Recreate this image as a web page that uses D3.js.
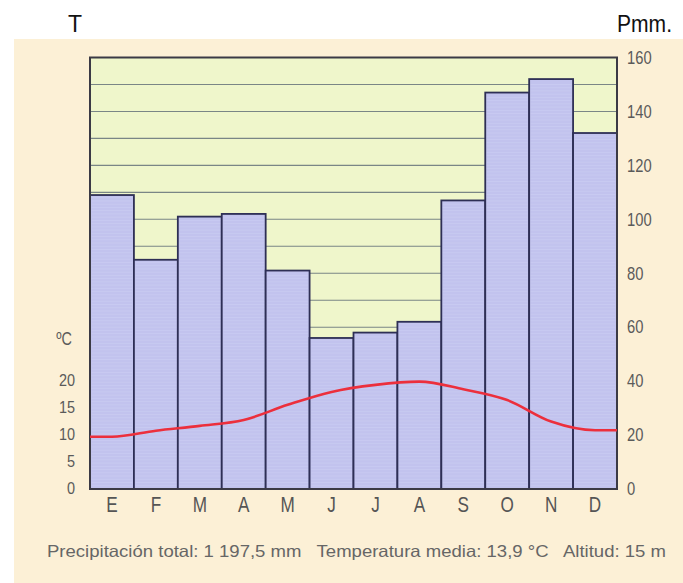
<!DOCTYPE html>
<html>
<head>
<meta charset="utf-8">
<script src="https://cdn.jsdelivr.net/npm/d3@7"></script>
<style>
  html, body { margin: 0; padding: 0; background: #ffffff; }
  svg { display: block; }
  text { white-space: pre; }
</style>
</head>
<body>
<div id="chart"></div>
<script>
const months = ["E","F","M","A","M","J","J","A","S","O","N","D"];
const precip = [109, 85, 101, 102, 81, 56, 58, 62, 107, 147, 152, 132];
const temp = [9.7, 10.8, 11.7, 12.8, 15.6, 18.0, 19.3, 19.9, 18.5, 16.5, 12.5, 10.9];
const precipTicks = [0, 20, 40, 60, 80, 100, 120, 140, 160];
const precipGrid = [10, 20, 30, 40, 50, 60, 70, 80, 90, 100, 110, 120, 130, 140, 150];
const tempTicks = [0, 5, 10, 15, 20];
const footer = "Precipitación total: 1 197,5 mm   Temperatura media: 13,9 °C   Altitud: 15 m";

const W = 683, H = 583;
const L = 90, R = 617, T = 57.5, B = 489;

const svg = d3.select("#chart").append("svg").attr("width", W).attr("height", H);

// backgrounds
svg.append("rect").attr("x", 0).attr("y", 0).attr("width", W).attr("height", H).attr("fill", "#ffffff");
svg.append("rect").attr("x", 14).attr("y", 39).attr("width", W - 14).attr("height", H - 39).attr("fill", "#fcf0d6");

const x = d3.scaleBand().domain(d3.range(12)).range([L, R]).padding(0);
const yP = d3.scaleLinear().domain([0, 160]).range([B, T]);
const yT = d3.scaleLinear().domain([0, 80]).range([B, T]); // T scale = P/2

// plot background
svg.append("rect").attr("x", L).attr("y", T).attr("width", R - L).attr("height", B - T).attr("fill", "#eff6cb");

// gridlines
svg.append("g").selectAll("line").data(precipGrid).join("line")
  .attr("x1", L).attr("x2", R)
  .attr("y1", d => yP(d)).attr("y2", d => yP(d))
  .attr("stroke", "#66737a").attr("stroke-width", 1.1).attr("opacity", 0.85);

// bars
svg.append("g").selectAll("rect").data(precip).join("rect")
  .attr("x", (d, i) => x(i))
  .attr("y", d => yP(d))
  .attr("width", x.bandwidth())
  .attr("height", d => B - yP(d))
  .attr("fill", "#c2c3ee")
  .attr("stroke", "#2e2f55").attr("stroke-width", 1.8);

// faint print texture inside bars
const stripes = d3.range(0, 160, 1.2);
svg.append("g").selectAll("g").data(precip).join("g").each(function(d, i) {
  d3.select(this).selectAll("line").data(stripes.filter(s => s < d - 0.8)).join("line")
    .attr("x1", x(i) + 1.5).attr("x2", x(i) + x.bandwidth() - 1.5)
    .attr("y1", s => yP(s)).attr("y2", s => yP(s))
    .attr("stroke", "#d4d6f6").attr("stroke-width", 0.6).attr("opacity", 0.6);
});

// plot border
svg.append("rect").attr("x", L).attr("y", T).attr("width", R - L).attr("height", B - T)
  .attr("fill", "none").attr("stroke", "#3b3a45").attr("stroke-width", 2);

// temperature line (extended to plot edges)
const pts = [[L, temp[0]]].concat(temp.map((t, i) => [x(i) + x.bandwidth() / 2, t])).concat([[R, temp[temp.length - 1]]]);
svg.append("path").datum(pts)
  .attr("d", d3.line().x(d => d[0]).y(d => yT(d[1])).curve(d3.curveMonotoneX))
  .attr("fill", "none").attr("stroke", "#ec2f3c").attr("stroke-width", 2.6).attr("stroke-linejoin", "round");

const sans = "'Liberation Sans', Arial, sans-serif";

// condensed text helper
function ctext(sel, px, py, sx, anchor) {
  return sel.attr("transform", (d, i) => `translate(${px(d, i)},${py(d, i)}) scale(${sx},1)`)
    .attr("text-anchor", anchor).attr("font-family", sans);
}

// right axis labels
ctext(svg.append("g").selectAll("text").data(precipTicks).join("text"),
  () => 627, d => yP(d), 0.82, "start")
  .attr("dy", "0.35em").attr("font-size", 18).attr("fill", "#5a5a5a")
  .text(d => d);

// left axis labels
ctext(svg.append("g").selectAll("text").data(tempTicks).join("text"),
  () => 75, d => yT(d) - 1, 0.85, "end")
  .attr("dy", "0.35em").attr("font-size", 17).attr("fill", "#5a5a5a")
  .text(d => d);

ctext(svg.append("g").selectAll("text").data(["ºC"]).join("text"),
  () => 72, () => 339, 0.8, "end")
  .attr("dy", "0.35em").attr("font-size", 18).attr("fill", "#5a5a5a")
  .text(d => d);

// month labels
ctext(svg.append("g").selectAll("text").data(months).join("text"),
  (d, i) => x(i) + x.bandwidth() / 2, () => 504, 0.78, "middle")
  .attr("dy", "0.35em").attr("font-size", 22).attr("fill", "#555555")
  .text(d => d);

// footer
svg.append("text").attr("x", 47).attr("y", 551).attr("dy", "0.35em")
  .attr("font-family", sans).attr("font-size", 16.5).attr("fill", "#666666")
  .attr("textLength", 619).attr("lengthAdjust", "spacingAndGlyphs")
  .text(footer);

// top labels
svg.append("text").attr("x", 75).attr("y", 32).attr("text-anchor", "middle")
  .attr("font-family", sans).attr("font-size", 23).attr("fill", "#111")
  .text("T");
svg.append("text").attr("x", 617).attr("y", 32)
  .attr("font-family", sans).attr("font-size", 23).attr("fill", "#111")
  .attr("textLength", 55).attr("lengthAdjust", "spacingAndGlyphs")
  .text("Pmm.");
</script>
</body>
</html>
